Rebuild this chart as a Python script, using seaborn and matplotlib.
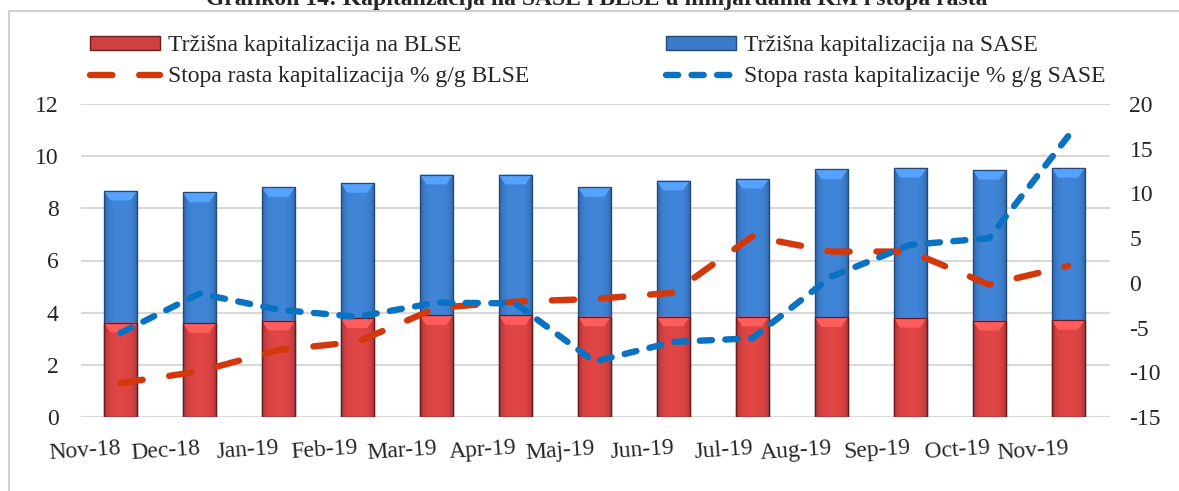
import numpy as np
import pandas as pd
import matplotlib
matplotlib.use("Agg")
import matplotlib.pyplot as plt
from matplotlib.lines import Line2D
from matplotlib.patches import Patch, Rectangle, Polygon
from matplotlib.colors import to_rgb
import seaborn as sns

# Data
months = ["Nov-18", "Dec-18", "Jan-19", "Feb-19", "Mar-19", "Apr-19", "Maj-19",
          "Jun-19", "Jul-19", "Aug-19", "Sep-19", "Oct-19", "Nov-19"]
kap_blse = [3.62, 3.60, 3.69, 3.78, 3.90, 3.90, 3.85, 3.85, 3.85, 3.82, 3.80, 3.69, 3.72]
kap_sase = [5.05, 5.01, 5.12, 5.19, 5.39, 5.39, 4.96, 5.21, 5.28, 5.68, 5.75, 5.78, 5.83]
rast_blse = [-11.2, -9.9, -7.5, -6.6, -2.8, -2.1, -1.8, -1.1, 5.2, 3.5, 3.5, -0.2, 1.9]
rast_sase = [-5.6, -1.2, -3.0, -3.8, -2.2, -2.3, -8.8, -6.6, -6.2, 0.7, 4.25, 5.0, 16.4]

df = pd.DataFrame({"Mjesec": months, "BLSE": kap_blse, "SASE": kap_sase,
                   "Rast_BLSE": rast_blse, "Rast_SASE": rast_sase})
df["Ukupno"] = df["BLSE"] + df["SASE"]
df["pos"] = np.arange(len(df))

sns.set_style("white")
plt.rcParams["font.family"] = ["Liberation Serif", "DejaVu Serif"]
plt.rcParams["axes.unicode_minus"] = False

RED = "#cf4040"
RED_EDGE = "#6e1a1a"
BLUE = "#3b7bc8"
BLUE_EDGE = "#22497d"
LINE_RED = "#d2380c"
LINE_BLUE = "#0a72c2"
GRID = "#d9d9d9"
FS = 17

fig = plt.figure(figsize=(11.79, 4.91), dpi=100)
ax = fig.add_axes([81 / 1179, 1 - 417 / 491, (1110 - 81) / 1179, (417 - 104) / 491])

# stacked bars: total (SASE on top) then BLSE over it
sns.barplot(data=df, x="Mjesec", y="Ukupno", color=BLUE, width=0.42, saturation=1,
            edgecolor=BLUE_EDGE, linewidth=0.8, ax=ax, zorder=2)
n = len(df)
sns.barplot(data=df, x="Mjesec", y="BLSE", color=RED, width=0.42, saturation=1,
            edgecolor=RED_EDGE, linewidth=0.8, ax=ax, zorder=2)


def bevel(patch, base):
    # horizontal shading + lighter top chevron, drawn inside the bar patch
    x0, y0 = patch.get_x(), patch.get_y()
    w, h = patch.get_width(), patch.get_height()
    c = np.array(to_rgb(base))
    t = np.linspace(-1, 1, 64)
    shade = 1.08 - 0.28 * t ** 4
    img = np.clip(c[None, :] * shade[:, None], 0, 1)[None, :, :]
    im = ax.imshow(img, extent=(x0, x0 + w, y0, y0 + h), aspect="auto",
                   zorder=2.1, interpolation="bilinear")
    im.set_clip_path(patch)
    dy = 0.37
    top = Polygon([(x0, y0 + h), (x0 + w, y0 + h), (x0 + 0.8 * w, y0 + h - dy),
                   (x0 + 0.2 * w, y0 + h - dy)], closed=True,
                  facecolor=np.clip(c * 1.2 + 0.06, 0, 1), edgecolor="none", zorder=2.2)
    ax.add_patch(top)
    edge = Rectangle((x0, y0), w, h, fill=False, edgecolor=patch.get_edgecolor(),
                     linewidth=0.9, zorder=2.3)
    ax.add_patch(edge)


bars = list(ax.patches)
for p in bars[:n]:
    bevel(p, BLUE)
for p in bars[n:2 * n]:
    bevel(p, RED)
ax.set_xlim(-0.5, 12.53)
ax.set_ylim(0, 12)
ax.set_yticks(np.arange(0, 13, 2))

ax.yaxis.grid(True, color=GRID, linewidth=1.5, zorder=0)
ax.set_axisbelow(True)
for s in ax.spines.values():
    s.set_visible(False)
ax.set_xlabel("")
ax.set_ylabel("")
ax.tick_params(axis="both", length=0, labelsize=FS)
ax.tick_params(axis="y", pad=16)
plt.setp(ax.get_xticklabels(), rotation=4, ha="right", rotation_mode="anchor")
ax.tick_params(axis="x", pad=15)

ax2 = ax.twinx()
sns.lineplot(data=df, x="pos", y="Rast_BLSE", color=LINE_RED, linewidth=4.6,
             ax=ax2, zorder=3)
sns.lineplot(data=df, x="pos", y="Rast_SASE", color=LINE_BLUE, linewidth=4.6,
             ax=ax2, zorder=3)
ax2.lines[0].set_dashes((3.5, 4.2))
ax2.lines[1].set_dashes((1.9, 2.1))
for ln in ax2.lines:
    ln.set_dash_capstyle("round")
    ln.set_solid_capstyle("round")
ax2.set_ylim(-15, 20)
ax2.set_yticks(np.arange(-15, 21, 5))
ax2.set_xlim(ax.get_xlim())
for s in ax2.spines.values():
    s.set_visible(False)
ax2.set_xlabel("")
ax2.set_ylabel("")
ax2.tick_params(axis="y", length=0, labelsize=FS, pad=14)
ax2.grid(False)

# legend
handles = [
    Patch(facecolor=RED, edgecolor=RED_EDGE, label="Tržišna kapitalizacija na BLSE"),
    Line2D([0], [0], color=LINE_RED, linewidth=4.6, dashes=(3.5, 4.2),
           dash_capstyle="round", label="Stopa rasta kapitalizacija % g/g BLSE"),
    Patch(facecolor=BLUE, edgecolor=BLUE_EDGE, label="Tržišna kapitalizacija na SASE"),
    Line2D([0], [0], color=LINE_BLUE, linewidth=4.6, dashes=(1.9, 2.1),
           dash_capstyle="round", label="Stopa rasta kapitalizacije % g/g SASE"),
]
fig.legend(handles=handles, ncol=2, loc="upper left", bbox_to_anchor=(81 / 1179, 1 - 26 / 491),
           frameon=False, fontsize=FS, handlelength=2.95, handleheight=0.55,
           handletextpad=0.34, columnspacing=5.8, labelspacing=0.42, borderaxespad=0)

# outer frame and (cut off) title
fig.add_artist(Rectangle((9 / 1179, -0.1), 1.2, 1.1 - 11 / 491, transform=fig.transFigure,
                         fill=False, edgecolor="#d0d0d0", linewidth=1.5))
fig.text(597 / 1179, 1 - 5 / 491, "Grafikon 14: Kapitalizacija na SASE i BLSE u milijardama KM i stopa rasta",
         ha="center", va="baseline", fontsize=FS, fontweight="bold")

fig.savefig("out.png", dpi=100)
